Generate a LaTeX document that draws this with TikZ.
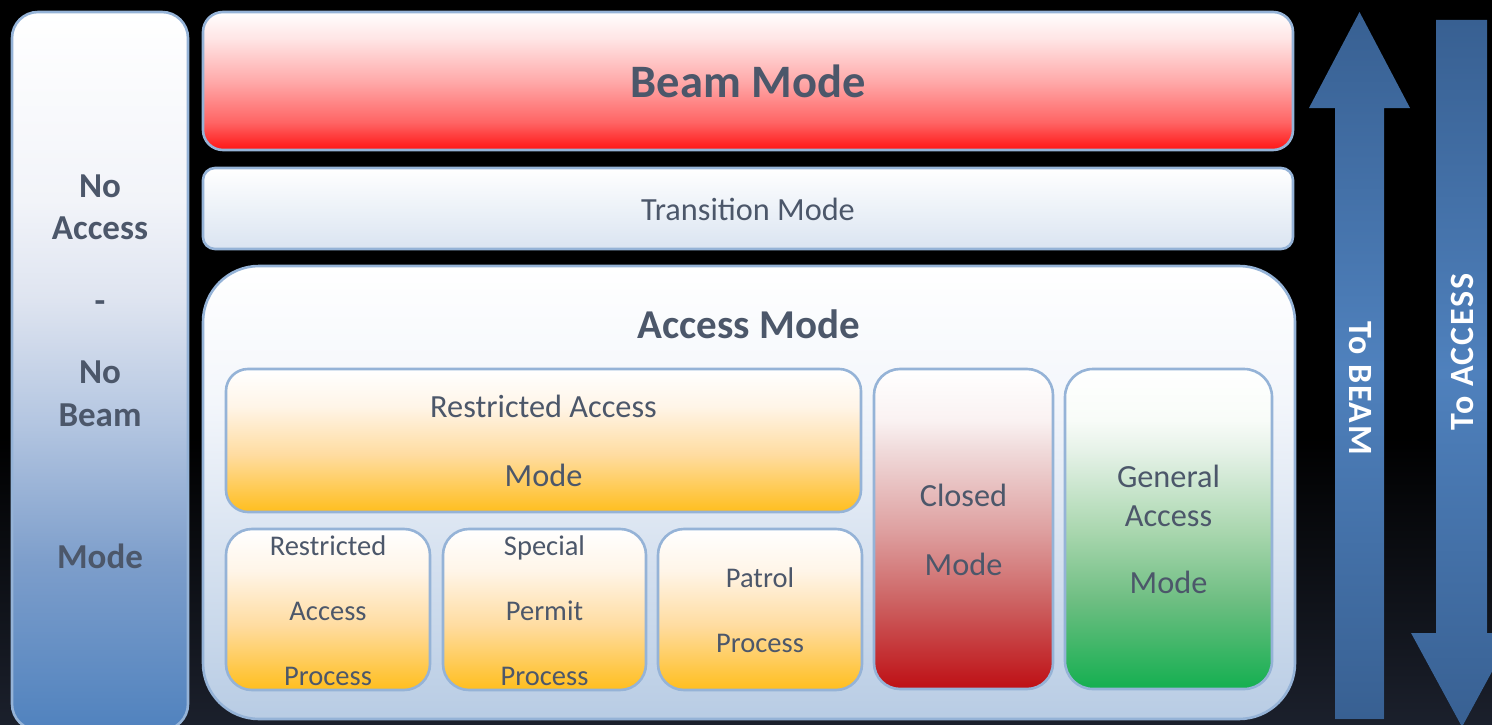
\documentclass[tikz,border=0pt]{standalone}
\usepackage{fontspec}
\setmainfont{Carlito}

% palette
\definecolor{txt}{RGB}{76,87,106}
\definecolor{edge}{RGB}{149,179,215}
\definecolor{bgbot}{RGB}{27,32,44}
\definecolor{arrdark}{RGB}{56,96,146}
\definecolor{arrmid}{RGB}{79,129,189}
% beam mode reds
\definecolor{bmA}{RGB}{255,20,20}
\definecolor{bmB}{RGB}{255,100,100}
\definecolor{bmC}{RGB}{255,170,170}
\definecolor{bmD}{RGB}{255,228,228}
% no-access column blues
\definecolor{naA}{RGB}{80,130,190}
\definecolor{naB}{RGB}{125,158,203}
\definecolor{naC}{RGB}{180,198,225}
\definecolor{naD}{RGB}{222,228,240}
\definecolor{naE}{RGB}{242,244,249}
% light panels
\definecolor{trBot}{RGB}{218,228,241}
\definecolor{acBot}{RGB}{184,204,228}
\definecolor{acMid}{RGB}{243,246,251}
% orange boxes
\definecolor{orA}{RGB}{255,190,30}
\definecolor{orB}{RGB}{255,220,160}
\definecolor{orC}{RGB}{255,245,232}
% closed reds
\definecolor{clA}{RGB}{190,15,20}
\definecolor{clB}{RGB}{205,100,100}
\definecolor{clC}{RGB}{222,160,160}
\definecolor{clD}{RGB}{240,218,218}
\definecolor{clE}{RGB}{250,242,242}
% general greens
\definecolor{gnA}{RGB}{20,175,80}
\definecolor{gnB}{RGB}{110,190,130}
\definecolor{gnC}{RGB}{170,215,175}
\definecolor{gnD}{RGB}{230,242,232}
\definecolor{gnE}{RGB}{248,252,248}

% vertical shadings (25bp = bottom edge, 75bp = top edge)
\pgfdeclareverticalshading{bgshade}{100bp}{color(0bp)=(bgbot); color(25bp)=(bgbot); color(45bp)=(black); color(100bp)=(black)}
\pgfdeclareverticalshading{beamshade}{100bp}{color(0bp)=(bmA); color(25bp)=(bmA); color(35bp)=(bmB); color(50bp)=(bmC); color(65bp)=(bmD); color(75bp)=(white); color(100bp)=(white)}
\pgfdeclareverticalshading{nashade}{100bp}{color(0bp)=(naA); color(25bp)=(naA); color(36.7bp)=(naB); color(46.5bp)=(naC); color(54.9bp)=(naD); color(61.9bp)=(naE); color(75bp)=(white); color(100bp)=(white)}
\pgfdeclareverticalshading{trshade}{100bp}{color(0bp)=(trBot); color(25bp)=(trBot); color(75bp)=(white); color(100bp)=(white)}
\pgfdeclareverticalshading{acshade}{100bp}{color(0bp)=(acBot); color(25bp)=(acBot); color(60bp)=(acMid); color(75bp)=(white); color(100bp)=(white)}
\pgfdeclareverticalshading{orshade}{100bp}{color(0bp)=(orA); color(25bp)=(orA); color(45bp)=(orB); color(62bp)=(orC); color(75bp)=(white); color(100bp)=(white)}
\pgfdeclareverticalshading{clshade}{100bp}{color(0bp)=(clA); color(25bp)=(clA); color(38.9bp)=(clB); color(49.8bp)=(clC); color(62.3bp)=(clD); color(67bp)=(clE); color(75bp)=(white); color(100bp)=(white)}
\pgfdeclareverticalshading{gnshade}{100bp}{color(0bp)=(gnA); color(25bp)=(gnA); color(38.9bp)=(gnB); color(49.8bp)=(gnC); color(62.3bp)=(gnD); color(67bp)=(gnE); color(75bp)=(white); color(100bp)=(white)}
\pgfdeclareverticalshading{arrshade}{100bp}{color(0bp)=(arrdark); color(25bp)=(arrdark); color(50bp)=(arrmid); color(75bp)=(arrdark); color(100bp)=(arrdark)}

\begin{document}
\begin{tikzpicture}[x=1pt,y=-1pt,
  panel/.style={draw=edge, line width=2.6pt, rectangle, inner sep=0pt},
  lbl/.style={text=txt, anchor=base, inner sep=0pt},
  hugebold/.style={lbl, font=\fontsize{46.5}{52}\selectfont\bfseries},
  headbold/.style={lbl, font=\fontsize{41}{47}\selectfont\bfseries},
  colbold/.style={lbl, font=\fontsize{35}{40}\selectfont\bfseries},
  plain/.style={lbl, font=\fontsize{32.3}{38}\selectfont},
  small/.style={lbl, font=\fontsize{28.5}{34}\selectfont},
  arrowtext/.style={text=white, anchor=center, inner sep=0pt,
    font=\fontsize{34}{40}\selectfont\bfseries\addfontfeatures{LetterSpace=5}}
]
\useasboundingbox (0,0) rectangle (1492,725);
\fill[shading=bgshade] (0,0) rectangle (1492,725);

% left column
\node[panel, shading=nashade, rounded corners=26pt, minimum width=176pt, minimum height=718pt] (noaccess) at (100,371) {};
\node[colbold] (na1) at (100,197) {No};
\node[colbold] (na2) at (100,239) {Access};
\node[colbold] (na3) at (100,312) {-};
\node[colbold] (na4) at (100,383) {No};
\node[colbold] (na5) at (100,426) {Beam};
\node[colbold] (na6) at (100,568) {Mode};

% beam and transition bands
\node[panel, shading=beamshade, rounded corners=20pt, minimum width=1090pt, minimum height=138pt] (beam) at (748,81) {};
\node[hugebold] (beamtxt) at (748,97) {Beam Mode};
\node[panel, shading=trshade, rounded corners=12pt, minimum width=1090pt, minimum height=81pt] (trans) at (748,208.5) {};
\node[plain] (transtxt) at (748,220) {Transition Mode};

% access mode container
\node[panel, shading=acshade, rounded corners=56pt, minimum width=1092pt, minimum height=453pt] (access) at (749,492.5) {};
\node[headbold] (accesstxt) at (749,338) {Access Mode};

% restricted access mode
\node[panel, shading=orshade, rounded corners=22pt, minimum width=635pt, minimum height=143pt] (ram) at (543.5,440.5) {};
\node[plain] (ram1) at (543.5,417) {Restricted Access};
\node[plain] (ram2) at (543.5,486) {Mode};

% processes
\node[panel, shading=orshade, rounded corners=26pt, minimum width=204pt, minimum height=161pt] (rap) at (328,609.5) {};
\node[small] (rap1) at (328,555) {Restricted};
\node[small] (rap2) at (328,620) {Access};
\node[small] (rap3) at (328,685) {Process};
\node[panel, shading=orshade, rounded corners=26pt, minimum width=203pt, minimum height=161pt] (spp) at (544.5,609.5) {};
\node[small] (spp1) at (544.5,555) {Special};
\node[small] (spp2) at (544.5,620) {Permit};
\node[small] (spp3) at (544.5,685) {Process};
\node[panel, shading=orshade, rounded corners=26pt, minimum width=204pt, minimum height=161pt] (pp) at (760,609.5) {};
\node[small] (pp1) at (760,587) {Patrol};
\node[small] (pp2) at (760,652) {Process};

% closed and general access
\node[panel, shading=clshade, rounded corners=26pt, minimum width=179pt, minimum height=320pt] (closed) at (963.5,529) {};
\node[plain] (cl1) at (963.5,506) {Closed};
\node[plain] (cl2) at (963.5,575) {Mode};
\node[panel, shading=gnshade, rounded corners=28pt, minimum width=207pt, minimum height=320pt] (general) at (1168.5,529) {};
\node[plain] (gn1) at (1168.5,487) {General};
\node[plain] (gn2) at (1168.5,526) {Access};
\node[plain] (gn3) at (1168.5,593) {Mode};

% direction arrows
\fill[shading=arrshade] (1335,719) -- (1335,108) -- (1309,108) -- (1359.5,12) -- (1410,108) -- (1384,108) -- (1384,719) -- cycle;
\node[arrowtext, rotate=-90] (tobeam) at (1360,388) {To BEAM};
\fill[shading=arrshade] (1436,20) -- (1436,633) -- (1411,633) -- (1462,727) -- (1513,633) -- (1487,633) -- (1487,20) -- cycle;
\node[arrowtext, rotate=90] (toaccess) at (1462,352) {To ACCESS};
\end{tikzpicture}
\end{document}
